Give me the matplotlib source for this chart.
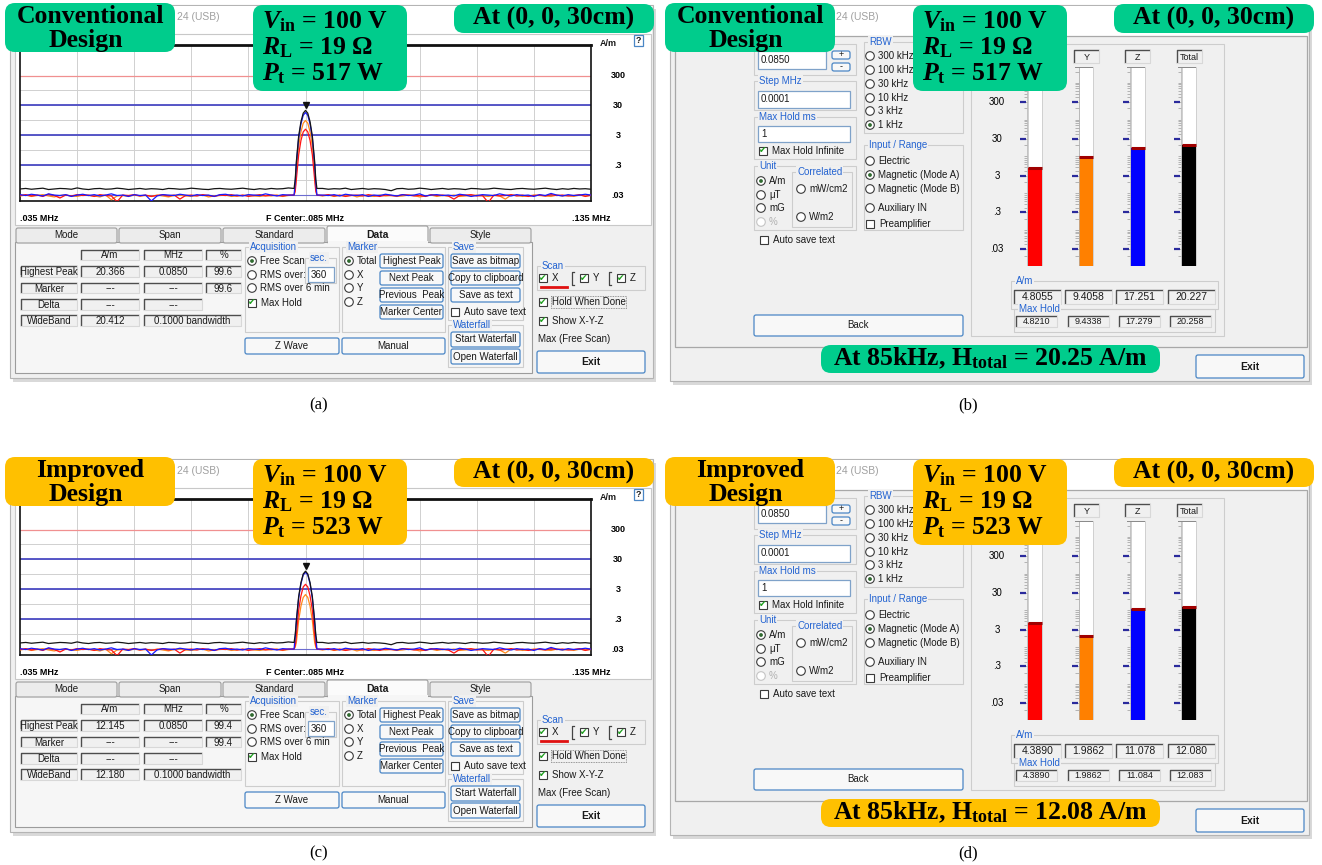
import matplotlib
matplotlib.use('Agg')
import matplotlib.pyplot as plt
from matplotlib.patches import Rectangle, FancyBboxPatch, Circle
import matplotlib.transforms as mtransforms
import numpy as np

plt.rcParams['mathtext.fontset'] = 'custom'
plt.rcParams['mathtext.rm'] = 'Liberation Serif:bold'
plt.rcParams['mathtext.it'] = 'Liberation Serif:italic:bold'
plt.rcParams['mathtext.bf'] = 'Liberation Serif:bold'

# ---------------- data ----------------
# spectrum sweep: frequency (MHz)
f_left = [round(0.035 + 0.001 * i, 3) for i in range(48)]
f_peak = [0.0830, 0.0832, 0.0834, 0.0838, 0.0842, 0.0846, 0.0850,
          0.0854, 0.0858, 0.0862, 0.0866, 0.0868, 0.0870]
f_right = [round(0.088 + 0.001 * i, 3) for i in range(48)]

# noise floor (mA/m), left part then right part
noise_black = [48,50,47,49,51,46,48,50,49,47,52,48,46,49,50,47,48,51,49,46,48,50,47,49,
               48,46,50,49,47,48,51,49,47,46,49,50,48,47,49,51,48,46,49,47,50,48,49,52,
               50,47,49,48,51,46,48,50,47,49,48,46,42,49,50,47,48,51,49,46,48,50,47,49,
               48,46,50,49,47,48,51,49,47,46,49,50,48,47,49,51,48,46,49,47,50,48,49,47]
noise_blue = [31,29,32,30,28,33,30,29,31,27,30,32,29,31,28,30,33,29,30,27,31,29,30,19,
              28,31,30,29,32,30,28,31,29,30,27,31,32,29,30,28,31,30,29,33,30,28,31,30,
              30,29,31,28,32,30,29,31,27,30,29,32,30,28,31,29,30,33,28,30,31,29,30,28,
              32,30,27,29,31,30,29,33,30,28,31,29,30,27,31,29,34,30,28,31,29,30,32,30]
noise_red = [29,31,28,30,27,32,29,24,30,28,31,29,30,27,31,29,28,18,30,29,31,28,30,27,
             29,31,28,30,22,29,30,28,31,29,27,30,29,31,28,30,27,29,31,28,30,29,28,30,
             29,31,28,30,27,29,30,28,31,29,27,30,29,28,31,30,28,29,27,31,29,30,28,22,
             29,30,31,28,29,17,30,28,29,31,28,30,27,29,30,28,31,29,30,28,29,31,27,30]
noise_orange = [28,30,27,29,31,28,26,29,30,28,27,30,29,28,26,30,21,28,29,27,30,28,29,27,
                30,28,26,29,30,28,27,29,30,26,28,29,30,27,28,29,30,28,27,29,28,30,27,29,
                28,30,27,29,28,30,26,29,28,27,30,28,29,27,28,30,29,26,28,30,27,29,28,30,
                27,28,29,30,28,27,29,28,22,30,29,27,28,30,29,28,27,30,28,29,27,30,28,29]

# peak region (A/m) - conventional (a)
peak_a_black = [0.05, 0.10, 0.40, 2.8, 8.5, 16.5, 20.4, 16.5, 8.5, 2.8, 0.40, 0.10, 0.05]
peak_a_blue = [0.03, 0.08, 0.33, 2.4, 7.2, 14.0, 17.3, 14.0, 7.2, 2.4, 0.33, 0.08, 0.03]
peak_a_orange = [0.03, 0.05, 0.18, 1.3, 3.9, 7.6, 9.4, 7.6, 3.9, 1.3, 0.18, 0.05, 0.03]
peak_a_red = [0.03, 0.04, 0.10, 0.66, 2.0, 3.9, 4.8, 3.9, 2.0, 0.66, 0.10, 0.04, 0.03]
# peak region (A/m) - improved (c)
peak_c_black = [0.05, 0.09, 0.27, 1.7, 5.0, 9.8, 12.1, 9.8, 5.0, 1.7, 0.27, 0.09, 0.05]
peak_c_blue = [0.03, 0.08, 0.25, 1.5, 4.6, 9.0, 11.1, 9.0, 4.6, 1.5, 0.25, 0.08, 0.03]
peak_c_orange = [0.03, 0.035, 0.05, 0.27, 0.82, 1.6, 2.0, 1.6, 0.82, 0.27, 0.05, 0.035, 0.03]
peak_c_red = [0.03, 0.04, 0.09, 0.6, 1.8, 3.6, 4.4, 3.6, 1.8, 0.6, 0.09, 0.04, 0.03]

# data table values [A/m, MHz, %]
highest_peak_a = [20.366, 0.0850, 99.6]
wideband_a = 20.412
highest_peak_c = [12.145, 0.0850, 99.4]
wideband_c = 12.180

# meter (b)/(d): X, Y, Z, Total
meter_labels = ['X', 'Y', 'Z', 'Total']
meter_b = [4.8055, 9.4058, 17.251, 20.227]
maxhold_b = [4.8210, 9.4338, 17.279, 20.258]
meter_d = [4.3890, 1.9862, 11.078, 12.080]
maxhold_d = [4.3890, 1.9862, 11.084, 12.083]

# ---------------- figure setup ----------------
W, H = 1322, 865
fig = plt.figure(figsize=(W / 100, H / 100), dpi=100)
fig.patch.set_facecolor('white')
bg = fig.add_axes([0, 0, 1, 1])
bg.set_xlim(0, W); bg.set_ylim(H, 0); bg.axis('off')

GUI = ['Liberation Sans', 'DejaVu Sans']
SERIF = 'Liberation Serif'
WIN_BG = '#f0f0f0'
LBL_BLUE = '#2363d1'
BTN_EDGE = '#4a86c5'


def px_axes(x0, y0, x1, y1, **kw):
    return fig.add_axes([x0 / W, 1 - y1 / H, (x1 - x0) / W, (y1 - y0) / H], **kw)


def rect(ax, x0, y0, x1, y1, fc='none', ec='none', lw=0.8, z=1, **kw):
    ax.add_patch(Rectangle((x0, y0), x1 - x0, y1 - y0, facecolor=fc, edgecolor=ec,
                           linewidth=lw, zorder=z, **kw))


def txt(ax, x, y, s, size=7, color='#1a1a1a', ha='left', va='center', weight='normal',
        family=None, z=6, **kw):
    ax.text(x, y, s, fontsize=size, color=color, ha=ha, va=va, fontweight=weight,
            family=family if family else GUI, zorder=z, **kw)


def button(x0, y0, x1, y1, label, bold=False, size=7):
    bg.add_patch(FancyBboxPatch((x0, y0), x1 - x0, y1 - y0,
                                boxstyle='round,pad=0,rounding_size=2', fc='#f8f8f8',
                                ec=BTN_EDGE, lw=0.9, zorder=4))
    txt(bg, (x0 + x1) / 2, (y0 + y1) / 2, label, ha='center',
        weight='bold' if bold else 'normal', size=size)


def group(x0, y0, x1, y1, label=None):
    rect(bg, x0, y0, x1, y1, ec='#cdcdcd', lw=0.8, z=2)
    if label:
        bg.text(x0 + 5, y0, label, fontsize=7, color=LBL_BLUE, va='center', ha='left',
                family=GUI, zorder=5, bbox=dict(fc=WIN_BG, ec='none', pad=0.6))


def sunken(x0, y0, x1, y1, label='', size=7, fc=WIN_BG):
    rect(bg, x0, y0, x1, y1, fc=fc, z=3)
    bg.plot([x0, x0, x1], [y1, y0, y0], color='#4d4d4d', lw=1.0, zorder=4,
            solid_capstyle='butt')
    bg.plot([x0, x1, x1], [y1, y1, y0], color='#d8d8d8', lw=0.8, zorder=4)
    if label:
        txt(bg, (x0 + x1) / 2, (y0 + y1) / 2 + 0.5, label, ha='center', size=size)


def textbox(x0, y0, x1, y1, s):
    rect(bg, x0, y0, x1, y1, fc='white', ec='#7fa2c9', lw=0.9, z=3)
    txt(bg, x0 + 3, (y0 + y1) / 2, s, size=7)


def radio(x, y, label, sel=False, disabled=False):
    ec = '#c4c4c4' if disabled else '#3a3a3a'
    bg.add_patch(Circle((x, y), 4.3, fc='white', ec=ec, lw=0.8, zorder=4))
    if sel:
        bg.add_patch(Circle((x, y), 1.9, fc='#2f6a2f', ec='none', zorder=5))
    txt(bg, x + 8, y, label, color='#b0b0b0' if disabled else '#1a1a1a')


def checkbox(x, y, label, checked=False):
    rect(bg, x - 4.3, y - 4.3, x + 4.3, y + 4.3, fc='white', ec='#3a3a3a', lw=0.8, z=4)
    if checked:
        bg.text(x, y, '\u2714', color='#1d9e1d', ha='center', va='center', fontsize=6.5,
                family='DejaVu Sans', zorder=6)
    if label:
        txt(bg, x + 9, y, label)


def fmt5(v):
    return f"{v:.4f}" if v < 10 else f"{v:.3f}"


# ---------------- spectrum panel (a)/(c) ----------------
def spectrum_panel(dy, peaks, hp, wb):
    rect(bg, 13, 9 + dy, 656, 382 + dy, fc='#d9d9d9', z=0.5)
    rect(bg, 10, 5 + dy, 653, 378 + dy, fc=WIN_BG, ec='#b4b4b4', lw=0.8, z=1)
    rect(bg, 11, 6 + dy, 652, 34 + dy, fc='white', z=1.2)
    txt(bg, 177, 17 + dy, '24 (USB)', size=7.5, color='#a0a0a0')
    rect(bg, 15, 34 + dy, 651, 225 + dy, fc='white', ec='#c8c8c8', lw=0.8, z=1.3)
    txt(bg, 600, 43 + dy, 'A/m', size=6.5, weight='bold')
    rect(bg, 634, 35 + dy, 643, 46 + dy, fc='white', ec=BTN_EDGE, lw=0.9, z=3)
    txt(bg, 638.5, 40.5 + dy, '?', size=6.5, ha='center', weight='bold')

    ax = px_axes(20, 45 + dy, 591, 201 + dy)
    ax.set_yscale('log')
    ax.set_xlim(0.035, 0.135)
    ax.set_ylim(0.019, 3150)
    for k in range(-3, 8):
        ax.axhline(0.03 * 10 ** (k / 2), color='#d0d0d0', lw=0.7, zorder=1)
    for k in range(1, 10):
        ax.axvline(0.035 + 0.01 * k, color='#d0d0d0', lw=0.7, zorder=1)
    ax.axhline(300, color='#f09090', lw=0.9, zorder=2)
    for v in (30, 3, 0.3):
        ax.axhline(v, color='#4a4ac4', lw=1.3, zorder=2)
    ax.axhline(0.03, color='#6c6cd0', lw=0.8, zorder=2)

    f_all = f_left + f_peak + f_right
    traces = [('orange', noise_orange, '#ff8a1c'), ('red', noise_red, '#ff1414'),
              ('blue', noise_blue, '#1818ff'), ('black', noise_black, '#151515')]
    for name, nz, col in traces:
        y = [v / 1000 for v in nz[:48]] + peaks[name] + [v / 1000 for v in nz[48:]]
        ax.plot(f_all, y, color=col, lw=0.9, zorder=3)
    trans = mtransforms.offset_copy(ax.transData, fig=fig, y=5, units='dots')
    ax.plot([hp[1]], [hp[0]], marker='v', color='#111111', ms=5, transform=trans,
            zorder=5, clip_on=False)

    ax.set_xticks([]); ax.set_yticks([])
    ax.yaxis.set_minor_locator(matplotlib.ticker.NullLocator())
    for s in ax.spines.values():
        s.set_color('#111111'); s.set_linewidth(1.2)
    ax.spines['top'].set_linewidth(2.0)
    bt = mtransforms.blended_transform_factory(ax.transAxes, ax.transData)
    for v, lab in zip([300, 30, 3, 0.3, 0.03], ['300', '30', '3', '.3', '.03']):
        ax.text(1 + 27 / 571, v, lab, transform=bt, ha='center', va='center', fontsize=6.5,
                fontweight='bold', family=GUI, clip_on=False)
    for xx, lab, ha in [(0, '.035 MHz', 'left'), (0.5, 'F Center:.085 MHz', 'center'),
                        (1.0, '.135 MHz', 'center')]:
        ax.text(xx, -0.11, lab, transform=ax.transAxes, ha=ha, va='center', fontsize=6.5,
                fontweight='bold', family=GUI, clip_on=False)

    # tabs
    tabs = ['Mode', 'Span', 'Standard', 'Data', 'Style']
    xs = [15, 118, 222, 326, 429, 532]
    rect(bg, 15, 242 + dy, 532, 373 + dy, fc='#f6f6f6', ec='#9c9c9c', lw=0.8, z=1.5)
    for i, t in enumerate(tabs):
        sel = t == 'Data'
        y0 = 226 if sel else 228
        bg.add_patch(FancyBboxPatch((xs[i] + 1, y0 + dy), xs[i + 1] - xs[i] - 2, 243 - y0,
                                    boxstyle='round,pad=0,rounding_size=2',
                                    fc='#fbfbfb' if sel else '#ececec', ec='#9c9c9c',
                                    lw=0.8, zorder=1.6))
        txt(bg, (xs[i] + xs[i + 1]) / 2, 235 + dy, t, ha='center',
            weight='bold' if sel else 'normal', size=7.5 if sel else 7)
    rect(bg, 327.5, 241 + dy, 427.5, 244 + dy, fc='#f6f6f6', z=1.7)

    # table
    sunken(81, 250 + dy, 139, 260 + dy, 'A/m')
    sunken(144, 250 + dy, 202, 260 + dy, 'MHz')
    sunken(206, 250 + dy, 241, 260 + dy, '%')
    rows = [(266, 277), (283, 293), (299, 310), (315, 326)]
    row_labels = ['Highest Peak', 'Marker', 'Delta', 'WideBand']
    for (y0, y1), lab in zip(rows, row_labels):
        sunken(21, y0 + dy, 77, y1 + dy, lab)
    r = rows[0]
    sunken(81, r[0] + dy, 139, r[1] + dy, f"{hp[0]:.3f}")
    sunken(144, r[0] + dy, 202, r[1] + dy, f"{hp[1]:.4f}")
    sunken(206, r[0] + dy, 241, r[1] + dy, f"{hp[2]:.1f}")
    r = rows[1]
    sunken(81, r[0] + dy, 139, r[1] + dy, '---')
    sunken(144, r[0] + dy, 202, r[1] + dy, '---')
    sunken(206, r[0] + dy, 241, r[1] + dy, f"{hp[2]:.1f}")
    r = rows[2]
    sunken(81, r[0] + dy, 139, r[1] + dy, '---')
    sunken(144, r[0] + dy, 202, r[1] + dy, '---')
    r = rows[3]
    sunken(81, r[0] + dy, 139, r[1] + dy, f"{wb:.3f}")
    sunken(144, r[0] + dy, 241, r[1] + dy, '0.1000 bandwidth')

    # acquisition
    group(245, 247 + dy, 339, 332 + dy, 'Acquisition')
    radio(252, 261 + dy, 'Free Scan', sel=True)
    radio(252, 275 + dy, 'RMS over:')
    radio(252, 288 + dy, 'RMS over 6 min')
    checkbox(252, 303 + dy, 'Max Hold', checked=True)
    group(305, 258 + dy, 336, 283 + dy, 'sec.')
    textbox(308, 267 + dy, 334, 282 + dy, '360')

    # marker
    group(342, 247 + dy, 445, 332 + dy, 'Marker')
    for yy, lab, s in [(261, 'Total', True), (275, 'X', False), (288, 'Y', False),
                       (302, 'Z', False)]:
        radio(349, yy + dy, lab, sel=s)
    for (y0, y1), lab in zip([(254, 268), (271, 285), (288, 302), (305, 319)],
                             ['Highest Peak', 'Next Peak', 'Previous  Peak', 'Marker Center']):
        button(380, y0 + dy, 443, y1 + dy, lab)

    # save
    group(448, 247 + dy, 523, 320 + dy, 'Save')
    for (y0, y1), lab in zip([(254, 268), (271, 285), (288, 302)],
                             ['Save as bitmap', 'Copy to clipboard', 'Save as text']):
        button(451, y0 + dy, 520, y1 + dy, lab)
    checkbox(455, 312 + dy, 'Auto save text')
    group(448, 325 + dy, 523, 367 + dy, 'Waterfall')
    button(451, 332 + dy, 520, 347 + dy, 'Start Waterfall')
    button(451, 349 + dy, 520, 364 + dy, 'Open Waterfall')
    button(245, 338 + dy, 339, 354 + dy, 'Z Wave')
    button(342, 338 + dy, 445, 354 + dy, 'Manual')

    # right side controls
    group(537, 266 + dy, 645, 290 + dy, 'Scan')
    checkbox(543, 278 + dy, 'X', checked=True)
    checkbox(584, 278 + dy, 'Y', checked=True)
    checkbox(621, 278 + dy, 'Z', checked=True)
    for xb in (572, 609):
        bg.plot([xb + 2, xb, xb, xb + 2], [272 + dy, 272 + dy, 285 + dy, 285 + dy],
                color='#444444', lw=0.9, zorder=4)
    bg.plot([541, 567], [286.5 + dy, 286.5 + dy], color='#e01010', lw=2.0, zorder=5)
    checkbox(543, 302 + dy, 'Hold When Done', checked=True)
    rect(bg, 551, 296 + dy, 626, 308 + dy, ec='#777777', lw=0.6, z=4, linestyle=(0, (1, 1)))
    checkbox(543, 321 + dy, 'Show X-Y-Z', checked=True)
    txt(bg, 538, 339 + dy, 'Max (Free Scan)')
    button(537, 351 + dy, 645, 373 + dy, 'Exit', bold=True, size=7.5)


# ---------------- meter panel (b)/(d) ----------------
def meter_panel(dy, vals, mh):
    rect(bg, 673, 9 + dy, 1312, 385 + dy, fc='#d9d9d9', z=0.5)
    rect(bg, 670, 5 + dy, 1309, 381 + dy, fc=WIN_BG, ec='#b4b4b4', lw=0.8, z=1)
    rect(bg, 671, 6 + dy, 1308, 36 + dy, fc='white', z=1.2)
    txt(bg, 836, 17 + dy, '24 (USB)', size=7.5, color='#a0a0a0')
    rect(bg, 675, 36 + dy, 1307, 347 + dy, ec='#a8a8a8', lw=0.9, z=1.3)

    group(754, 44 + dy, 856, 75 + dy)
    textbox(758, 51 + dy, 826, 69 + dy, '0.0850')
    button(832, 51 + dy, 850, 59 + dy, '+', size=6.5)
    button(832, 63 + dy, 850, 71 + dy, '-', size=6.5)
    group(754, 81 + dy, 856, 110 + dy, 'Step MHz')
    textbox(758, 91 + dy, 850, 108 + dy, '0.0001')
    group(754, 117 + dy, 856, 159 + dy, 'Max Hold ms')
    textbox(758, 126 + dy, 850, 142 + dy, '1')
    checkbox(763, 151 + dy, 'Max Hold Infinite', checked=True)
    group(754, 166 + dy, 856, 230 + dy, 'Unit')
    radio(761, 181 + dy, 'A/m', sel=True)
    radio(761, 195 + dy, '\u03bcT')
    radio(761, 208 + dy, 'mG')
    radio(761, 222 + dy, '%', disabled=True)
    group(792, 172 + dy, 852, 227 + dy, 'Correlated')
    radio(801, 189 + dy, 'mW/cm2')
    radio(801, 217 + dy, 'W/m2')
    checkbox(764, 240 + dy, 'Auto save text')
    button(754, 315 + dy, 963, 336 + dy, 'Back')

    group(864, 42 + dy, 963, 133 + dy, 'RBW')
    for yy, lab, s in [(56, '300 kHz', False), (70, '100 kHz', False), (84, '30 kHz', False),
                       (98, '10 kHz', False), (111, '3 kHz', False), (125, '1 kHz', True)]:
        radio(870, yy + dy, lab, sel=s)
    group(864, 145 + dy, 963, 230 + dy, 'Input / Range')
    radio(870, 161 + dy, 'Electric')
    radio(870, 175 + dy, 'Magnetic (Mode A)', sel=True)
    radio(870, 189 + dy, 'Magnetic (Mode B)')
    radio(870, 208 + dy, 'Auxiliary IN')
    checkbox(870, 224 + dy, 'Preamplifier')

    group(971, 44 + dy, 1224, 336 + dy)
    for x0, lab in zip([1023, 1074, 1125, 1177], meter_labels):
        sunken(x0, 50 + dy, x0 + 25, 63 + dy, lab, size=6.5)

    bx = px_axes(1011, 67 + dy, 1218, 266 + dy)
    bx.set_yscale('log')
    top, bot = 2680, 0.0104
    bx.set_ylim(bot, top)
    bx.set_xlim(-0.468, 3.567)
    bx.patch.set_alpha(0)
    for s in bx.spines.values():
        s.set_visible(False)
    bx.set_xticks([]); bx.set_yticks([])
    bx.yaxis.set_minor_locator(matplotlib.ticker.NullLocator())
    pos = np.arange(len(vals))
    bw = 0.273
    bx.bar(pos, top - bot, bottom=bot, width=bw, color='white', edgecolor='#c9c9c9',
           lw=0.6, zorder=1)
    bx.bar(pos, np.array(vals) - bot, bottom=bot, width=bw,
           color=['#ff0000', '#ff8000', '#0000ff', '#000000'], zorder=2)
    bx.hlines(mh, pos - bw / 2, pos + bw / 2, color='#a00000', lw=2.2, zorder=3)
    minor = [m * 10.0 ** k for k in range(-2, 4) for m in range(1, 10)
             if bot <= m * 10.0 ** k <= top]
    for p in pos:
        bx.hlines(minor, p - bw / 2 - 0.075, p - bw / 2 - 0.01, color='#9a9a9a', lw=0.5,
                  zorder=2)
        bx.vlines(p - bw / 2 - 0.01, bot, top, color='#b0b0b0', lw=0.5, zorder=2)
        bx.hlines([0.03, 0.3, 3, 30, 300], p - bw / 2 - 0.15, p - bw / 2 - 0.03,
                  color='#2a2a9c', lw=1.6, zorder=3)
        bx.hlines([top], p - bw / 2 - 0.08, p + bw / 2, color='#8a8a8a', lw=1.4, zorder=3)
    bt = mtransforms.blended_transform_factory(bx.transAxes, bx.transData)
    for v, lab in zip([300, 30, 3, 0.3, 0.03], ['300', '30', '3', '.3', '.03']):
        bx.text(-14 / 207, v, lab, transform=bt, ha='center', va='center', fontsize=7,
                family=GUI, clip_on=False)

    group(1011, 281 + dy, 1218, 309 + dy, 'A/m')
    for x0, v in zip([1014, 1065, 1116, 1168], vals):
        sunken(x0, 290 + dy, x0 + 47, 304 + dy, fmt5(v), size=7.5)
    group(1014, 309 + dy, 1215, 332 + dy, 'Max Hold')
    for x0, v in zip([1016, 1068, 1119, 1170], mh):
        sunken(x0, 316 + dy, x0 + 41, 327 + dy, fmt5(v), size=6.5)
    button(1196, 355 + dy, 1304, 378 + dy, 'Exit', bold=True, size=7.5)


spectrum_panel(0, {'black': peak_a_black, 'blue': peak_a_blue, 'orange': peak_a_orange,
                   'red': peak_a_red}, highest_peak_a, wideband_a)
spectrum_panel(454, {'black': peak_c_black, 'blue': peak_c_blue, 'orange': peak_c_orange,
                     'red': peak_c_red}, highest_peak_c, wideband_c)
meter_panel(0, meter_b, maxhold_b)
meter_panel(454, meter_d, maxhold_d)

# ---------------- overlay annotation boxes ----------------
ov = fig.add_axes([0, 0, 1, 1], zorder=10)
ov.set_xlim(0, W); ov.set_ylim(H, 0); ov.axis('off'); ov.patch.set_alpha(0)

GREEN = '#00cc8c'
GOLD = '#ffc000'
BIG = 18.5


def rbox(x0, y0, x1, y1, color, r=10):
    ov.add_patch(FancyBboxPatch((x0, y0), x1 - x0, y1 - y0,
                                boxstyle=f'round,pad=0,rounding_size={r}', fc=color,
                                ec='none', zorder=1))


def stxt(x, y, s, size=BIG, ha='center'):
    ov.text(x, y, s, fontsize=size, ha=ha, va='baseline', family=SERIF, fontweight='bold',
            color='black', zorder=2)


for dy, color, name, pt, htxt in [
        (0, GREEN, 'Conventional', '517', '20.25'),
        (454, GOLD, 'Improved', '523', '12.08')]:
    for xo in (0, 660):
        rbox(5 + xo, 3 + dy, 175 + xo, 52 + dy, color)
        stxt(90 + xo, 23 + dy, name)
        stxt(86 + xo, 47 + dy, 'Design')
        rbox(253 + xo, 5 + dy, 407 + xo, 91 + dy, color)
        stxt(262 + xo, 28 + dy, r'$V_{\mathrm{in}}$ = 100 V', ha='left')
        stxt(262 + xo, 54 + dy, r'$R_{\mathrm{L}}$ = 19 Ω', ha='left')
        stxt(262 + xo, 80 + dy, r'$P_{\mathrm{t}}$ = ' + pt + ' W', ha='left')
        rbox(454 + xo, 4 + dy, 654 + xo, 33 + dy, color)
        stxt(554 + xo, 25 + dy, 'At (0, 0, 30cm)')
    rbox(821, 345 + dy, 1160, 373 + dy, color)
    stxt(990, 365 + dy, r'At 85kHz, H$_{\mathrm{total}}$ = ' + htxt + ' A/m')

# captions
for x, y, s in [(319, 405, '(a)'), (968, 405, '(b)'), (319, 853, '(c)'), (968, 853, '(d)')]:
    ov.text(x, y, s, fontsize=12, ha='center', va='center', family=SERIF, color='black')

fig.savefig('out.png', dpi=100, facecolor='white')
